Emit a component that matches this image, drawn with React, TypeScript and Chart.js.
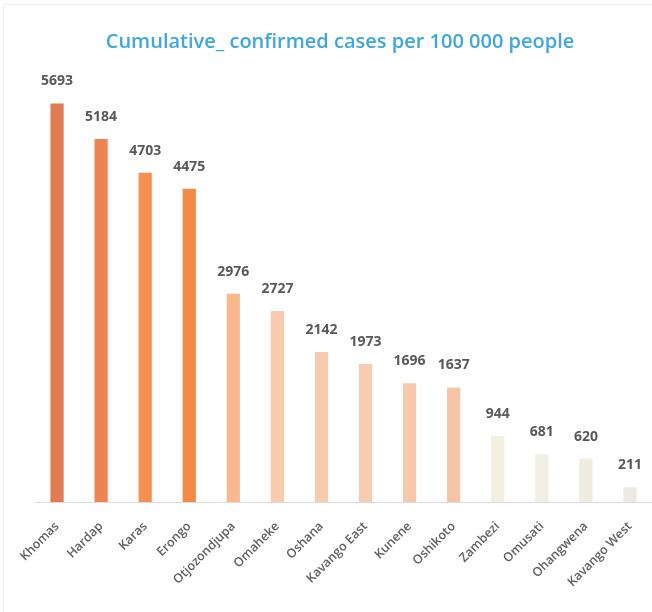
import React, { useEffect, useRef } from "react";
import { Chart, registerables } from "chart.js";

Chart.register(...registerables);

const TITLE = "Cumulative_ confirmed cases per 100 000 people";

const categories = [
  "Khomas",
  "Hardap",
  "Karas",
  "Erongo",
  "Otjozondjupa",
  "Omaheke",
  "Oshana",
  "Kavango East",
  "Kunene",
  "Oshikoto",
  "Zambezi",
  "Omusati",
  "Ohangwena",
  "Kavango West",
];

const cases = [5693, 5184, 4703, 4475, 2976, 2727, 2142, 1973, 1696, 1637, 944, 681, 620, 211];

const barColors = [
  "#E07B52",
  "#EE8452",
  "#F69050",
  "#F38A47",
  "#FAB88E",
  "#F9CAAE",
  "#F8CBAE",
  "#F8CCB1",
  "#F8C8AC",
  "#F6C4A7",
  "#F2EEE0",
  "#F1EEE3",
  "#F0ECE0",
  "#EDEAE2",
];

const FONT = "'Open Sans', 'Noto Sans', sans-serif";

const decorPlugin = {
  id: "decor",
  afterDatasetsDraw(chart: any) {
    const ctx = chart.ctx;
    const meta = chart.getDatasetMeta(0);
    ctx.save();
    ctx.fillStyle = "#595959";
    ctx.font = `bold 14px ${FONT}`;
    ctx.textAlign = "center";
    ctx.textBaseline = "middle";
    meta.data.forEach((bar: any, i: number) => {
      ctx.fillText(String(cases[i]), bar.x, bar.y - 22);
    });
    ctx.restore();
  },
  afterDraw(chart: any) {
    const ctx = chart.ctx;
    ctx.save();
    ctx.fillStyle = "#3FA7E0";
    ctx.font = `600 20px ${FONT}`;
    ctx.textAlign = "center";
    ctx.textBaseline = "middle";
    ctx.fillText(TITLE, 340, 42);
    ctx.strokeStyle = "#EEEEEE";
    ctx.lineWidth = 1;
    ctx.beginPath();
    ctx.moveTo(3.5, 612);
    ctx.lineTo(3.5, 4.5);
    ctx.lineTo(652, 4.5);
    ctx.stroke();
    ctx.restore();
  },
};

export default function App() {
  const ref = useRef<HTMLCanvasElement | null>(null);

  useEffect(() => {
    if (!ref.current) return;
    const chart = new Chart(ref.current, {
      type: "bar",
      data: {
        labels: categories,
        datasets: [
          {
            data: cases,
            backgroundColor: barColors,
            borderWidth: 0,
            barPercentage: 0.3,
            categoryPercentage: 1,
          },
        ],
      },
      options: {
        responsive: false,
        animation: false,
        devicePixelRatio: 1,
        layout: { padding: { left: 35, right: -3, top: 82, bottom: 0 } },
        plugins: {
          legend: { display: false },
          title: { display: false },
          tooltip: { enabled: false },
        },
        scales: {
          x: {
            grid: { display: false, drawTicks: false },
            border: { display: true, color: "#DADADA", width: 1 },
            ticks: {
              color: "#606060",
              font: { family: FONT, size: 12.5, weight: "600" },
              minRotation: 45,
              maxRotation: 45,
              padding: 17,
              autoSkip: false,
            },
            afterFit(scale: any) {
              scale.height = 110;
              scale.paddingLeft = 0;
              scale.paddingRight = 0;
            },
          },
          y: {
            display: false,
            min: 0,
            max: 6000,
          },
        },
      },
      plugins: [decorPlugin],
    });
    return () => chart.destroy();
  }, []);

  return (
    <div style={{ position: "absolute", left: 0, top: 0, width: 652, height: 612, background: "#fff" }}>
      <canvas ref={ref} width={652} height={612} />
    </div>
  );
}
